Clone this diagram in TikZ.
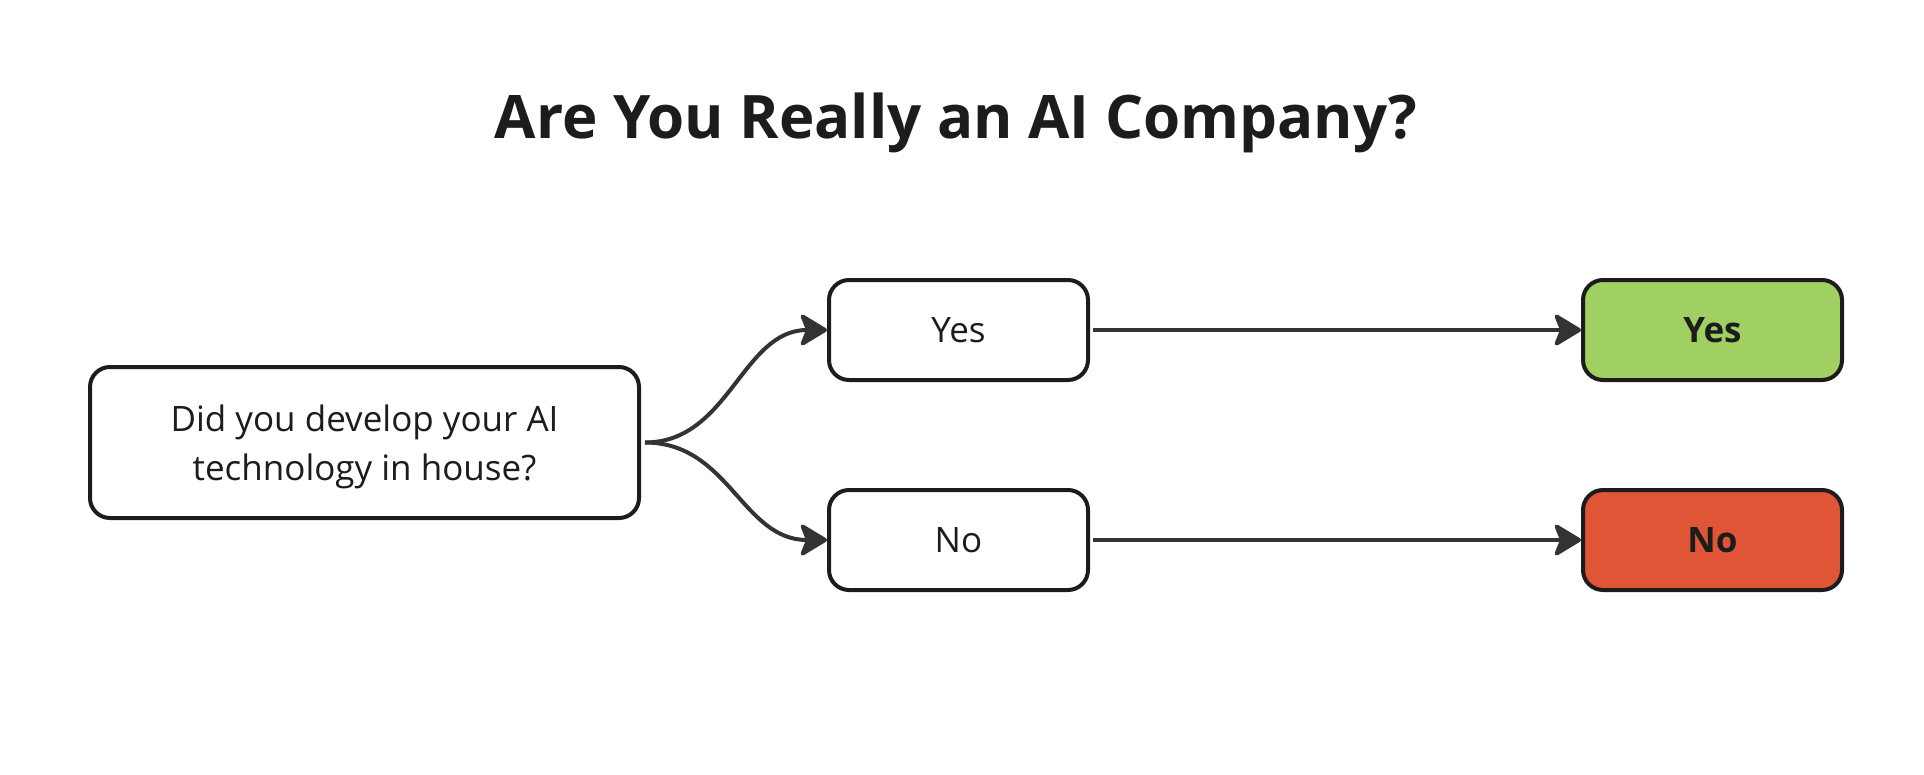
\documentclass[tikz,border=0pt]{standalone}
\usepackage{fontspec}
\setmainfont{Open Sans}
\usetikzlibrary{arrows.meta}
\definecolor{edge}{HTML}{1C1C1C}
\definecolor{conn}{HTML}{333333}
\definecolor{okgreen}{HTML}{A0CF62}
\definecolor{nored}{HTML}{E05536}
\tikzset{
  box/.style={draw=edge, line width=4pt, rounded corners=20pt, fill=white,
    minimum width=259pt, minimum height=100pt, inner sep=0pt,
    text=edge, font=\fontsize{35}{49}\selectfont, align=center},
  qbox/.style={box, minimum width=549pt, minimum height=151pt},
  qtext/.style={inner sep=0pt, text=edge, font=\fontsize{35}{49}\selectfont, align=center},
  resbox/.style={box, font=\fontsize{35}{49}\selectfont\bfseries},
  arr/.style={draw=conn, line width=4pt,
    -{Stealth[length=30pt, width=36pt, inset=7pt, round]}},
}
\begin{document}
\begin{tikzpicture}[x=1pt, y=-1pt]
\useasboundingbox[fill=white] (0,0) rectangle (1924,774);
\node[anchor=base, text=edge, font=\fontsize{60}{70}\selectfont\bfseries] (title) at (956,138) {Are You Really an AI Company?};
\node[qbox] (q) at (364.5,442.5) {};
\node[qtext] (qt) at ([yshift=-4.5pt]q.center) {Did you develop your AI\\technology in house?};
\node[box] (yes) at (958.5,330) {Yes};
\node[box] (no) at (958.5,540) {No};
\node[resbox, fill=okgreen] (ryes) at (1712.5,330) {Yes};
\node[resbox, fill=nored] (rno) at (1712.5,540) {No};
\draw[arr] ([xshift=4pt]q.east) .. controls +(84,0) and +(-85,0) .. (yes.west);
\draw[arr] ([xshift=4pt]q.east) .. controls +(84,0) and +(-85,0) .. (no.west);
\draw[arr] ([xshift=3pt]yes.east) -- (ryes.west);
\draw[arr] ([xshift=3pt]no.east) -- (rno.west);
\end{tikzpicture}
\end{document}
